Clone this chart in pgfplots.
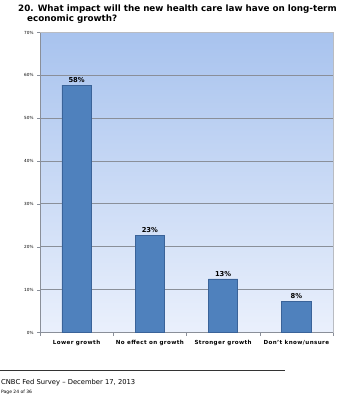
\documentclass[border=0pt]{standalone}
\usepackage{pgfplots}
\pgfplotsset{compat=1.18}
\usepackage{fontspec}
\setmainfont{DejaVu Sans}
\definecolor{barfill}{HTML}{4F81BD}
\definecolor{baredge}{HTML}{3A6399}
\definecolor{bgtop}{HTML}{A8C3EE}
\definecolor{bgbot}{HTML}{EAF0FC}
\definecolor{gridc}{HTML}{8A8F99}
\begin{document}
\begin{tikzpicture}[x=1bp,y=1bp]
\path[use as bounding box] (0,0) rectangle (355,400);
\begin{axis}[
  at={(40bp,67.5bp)}, anchor=south west,
  scale only axis, width=293bp, height=300bp,
  xmin=-0.5, xmax=3.5, ymin=0, ymax=70,
  axis background/.style={top color=bgtop, bottom color=bgbot},
  xtick={0,1,2,3},
  xticklabels={Lower growth, No effect on growth, Stronger growth, Don't know/unsure},
  xticklabel style={font=\fontsize{5.6}{6.5}\selectfont\bfseries\addfontfeature{LetterSpace=7}, yshift=-1bp},
  major x tick style={draw=none},
  minor xtick={-0.5,0.5,1.5,2.5,3.5},
  minor tick length=3bp,
  minor x tick style={draw=gridc},
  ytick={0,10,20,30,40,50,60,70},
  yticklabel={\pgfmathprintnumber{\tick}\%},
  yticklabel style={font=\fontsize{4.2}{5}\selectfont},
  /pgf/number format/assume math mode=true,
  ymajorgrids, grid style={draw=gridc, line width=0.9bp},
  major tick length=3bp,
  tick align=outside,
  tick style={draw=gridc},
  axis x line*=bottom, axis y line*=left,
  axis line style={draw=gridc},
  clip=false,
  bar width=0.4,
  nodes near coords,
  point meta=explicit symbolic,
  every node near coord/.append style={font=\fontsize{6.8}{7.5}\selectfont\bfseries, yshift=-1bp},
]
\addplot[ybar, fill=barfill, draw=baredge, line width=0.8bp] coordinates {
  (0,57.7) [58\%]
  (1,22.6) [23\%]
  (2,12.5) [13\%]
  (3,7.3) [8\%]
};
\draw[draw=gridc!60, line width=0.8bp] (axis cs:3.5,0) -- (axis cs:3.5,70) -- (axis cs:-0.5,70);
\end{axis}
\node[anchor=north west, align=left, font=\fontsize{8.8}{10}\selectfont\bfseries, inner sep=0pt] at (18,395.5)
  {20. What impact will the new health care law have on long-term\\\hspace*{9bp}economic growth?};
\draw[black!80, line width=0.6bp] (0,29.5) -- (285,29.5);
\node[anchor=west, inner sep=0pt, font=\fontsize{6.8}{7.5}\selectfont] at (1,17) {CNBC Fed Survey -- December 17, 2013};
\node[anchor=west, inner sep=0pt, font=\fontsize{4.5}{5}\selectfont] at (1,7.5) {Page 24 of 36};
\end{tikzpicture}
\end{document}
